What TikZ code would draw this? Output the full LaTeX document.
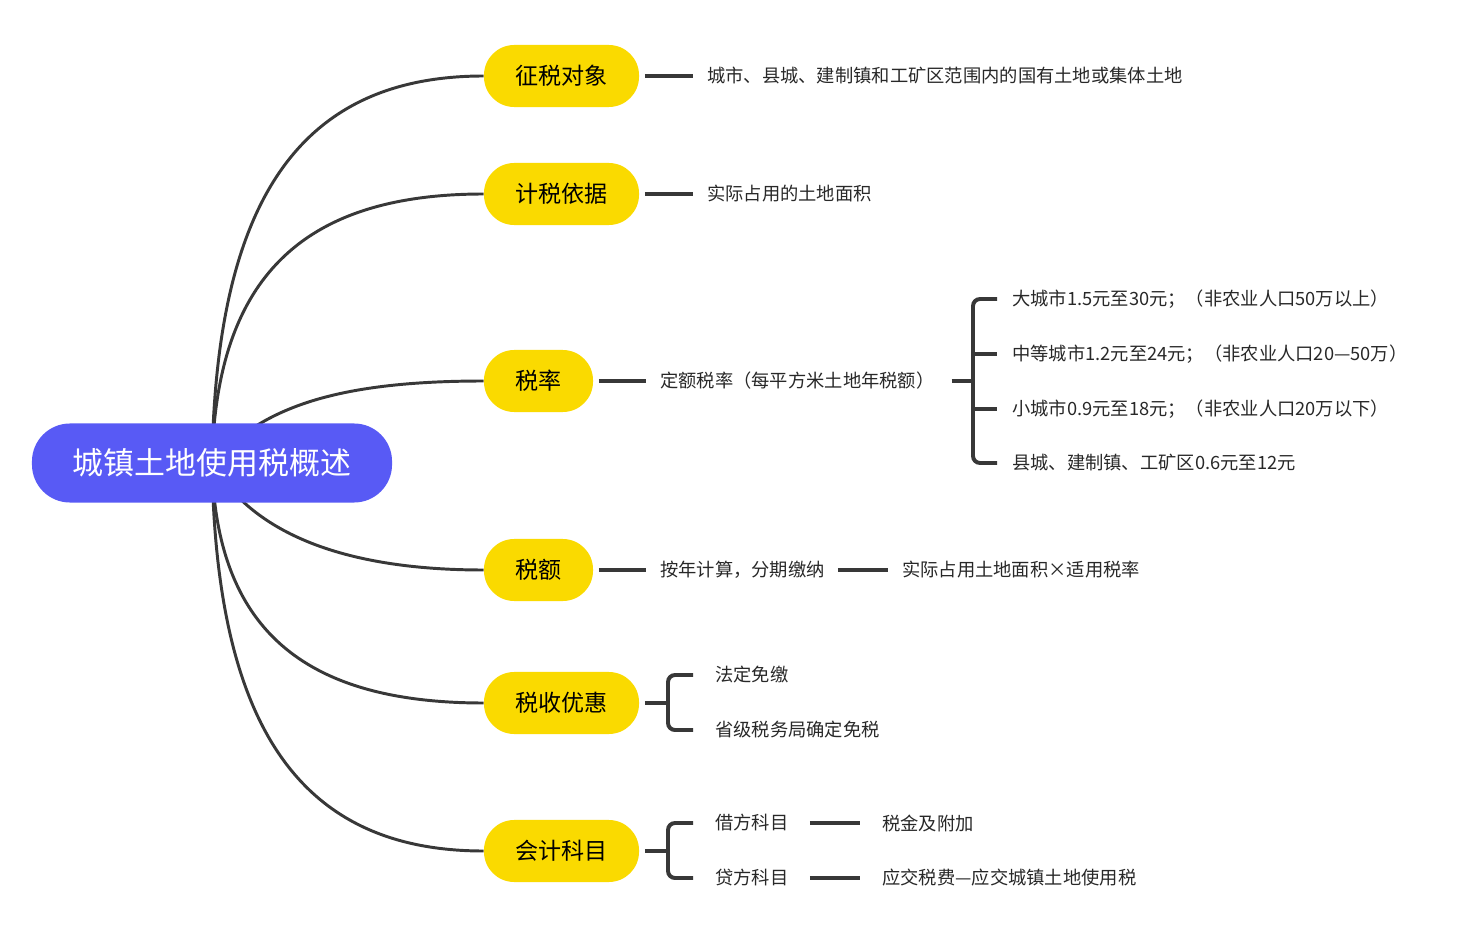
\documentclass[tikz,border=0pt]{standalone}
\usepackage{fontspec}
\setmainfont{Noto Sans CJK SC}
\usepackage{tikz}
\usetikzlibrary{backgrounds,calc}
\definecolor{rootblue}{RGB}{88,90,245}
\definecolor{topicyellow}{RGB}{250,218,0}
\definecolor{linkgray}{RGB}{56,56,56}
\definecolor{leafgray}{RGB}{40,40,40}
\tikzset{
  root/.style    = {fill=rootblue, text=white, rounded corners=27pt, inner sep=0pt,
                    minimum width=9cm, minimum height=1.975cm,
                    font=\fontsize{22}{26}\selectfont},
  topic/.style   = {fill=topicyellow, text=black, rounded corners=21.5pt, inner sep=0pt,
                    minimum width=3.875cm, minimum height=1.55cm,
                    font=\fontsize{16.4}{20}\selectfont},
  topicsm/.style = {topic, minimum width=2.725cm},
  leaf/.style    = {anchor=west, inner sep=0pt, text=leafgray,
                    font=\fontsize{13}{16}\selectfont},
  branch/.style  = {draw=linkgray, line width=2.1pt},
  link/.style    = {draw=linkgray, line width=2.8pt, shorten <=4pt, shorten >=10pt}
}

\begin{document}
\begin{tikzpicture}[x=0.025cm,y=-0.025cm]
  \useasboundingbox (0,0) rectangle (1472,931);
  % root and first-level topics
  \node[root] (main) at (212,463) {城镇土地使用税概述};
  \node[topic]   (obj)    at (561.5,76)  {征税对象};
  \node[topic]   (basis)  at (561.5,194) {计税依据};
  \node[topicsm] (rate)   at (538.5,381) {税率};
  \node[topicsm] (amount) at (538.5,570) {税额};
  \node[topic]   (relief) at (561.5,703) {税收优惠};
  \node[topic]   (acct)   at (561.5,851) {会计科目};
  % curved branches, kept behind the root
  \begin{scope}[on background layer]
    \draw[branch] (main.center) .. controls (216,200) and (300,76)  .. (obj.west);
    \draw[branch] (main.center) .. controls (216,280) and (300,194) .. (basis.west);
    \draw[branch] (main.center) .. controls (260,410) and (330,381) .. (rate.west);
    \draw[branch] (main.center) .. controls (245,520) and (320,570) .. (amount.west);
    \draw[branch] (main.center) .. controls (216,626) and (300,703) .. (relief.west);
    \draw[branch] (main.center) .. controls (216,727) and (300,851) .. (acct.west);
  \end{scope}
  % leaves
  \node[leaf] (objtxt)   at (707,76)  {城市、县城、建制镇和工矿区范围内的国有土地或集体土地};
  \node[leaf] (basistxt) at (707,194) {实际占用的土地面积};
  \node[leaf] (ratetxt)  at (660,381) {定额税率（每平方米土地年税额）};
  \node[leaf] (r1) at (1012,299) {大城市1.5元至30元；（非农业人口50万以上）};
  \node[leaf] (r2) at (1012,354) {中等城市1.2元至24元；（非农业人口20—50万）};
  \node[leaf] (r3) at (1012,409) {小城市0.9元至18元；（非农业人口20万以下）};
  \node[leaf] (r4) at (1012,463) {县城、建制镇、工矿区0.6元至12元};
  \node[leaf] (amt1) at (660,570) {按年计算，分期缴纳};
  \node[leaf] (amt2) at (902,570) {实际占用土地面积×适用税率};
  \node[leaf] (rel1) at (715,675) {法定免缴};
  \node[leaf] (rel2) at (715,730) {省级税务局确定免税};
  \node[leaf] (dr)    at (715,823) {借方科目};
  \node[leaf] (cr)    at (715,878) {贷方科目};
  \node[leaf] (drtxt) at (882,823) {税金及附加};
  \node[leaf] (crtxt) at (882,878) {应交税费—应交城镇土地使用税};
  \coordinate (rj) at (973,381);
  \coordinate (fj) at (668,703);
  \coordinate (aj) at (668,851);
  % straight links
  \draw[link] (obj.east) -- (objtxt.west);
  \draw[link] (basis.east) -- (basistxt.west);
  \draw[link] (rate.east) -- (ratetxt.west);
  \draw[link] (amount.east) -- (amt1.west);
  \draw[link, shorten <=9pt] (amt1.east) -- (amt2.west);
  \draw[link, shorten <=15pt, shorten >=15.5pt] (dr.east) -- (drtxt.west);
  \draw[link, shorten <=15pt, shorten >=15.5pt] (cr.east) -- (crtxt.west);
  % brackets
  \draw[link, shorten <=12pt, shorten >=0pt] (ratetxt.east) -- (rj);
  \draw[link, shorten <=0pt, shorten >=0pt, rounded corners=5pt]
    ($(r1.west)+(-15,0)$) -| (rj) |- ($(r4.west)+(-15,0)$);
  \draw[link, shorten <=0pt, shorten >=0pt] (rj |- r2.west) -- ($(r2.west)+(-15,0)$);
  \draw[link, shorten <=0pt, shorten >=0pt] (rj |- r3.west) -- ($(r3.west)+(-15,0)$);
  \draw[link, shorten >=0pt] (relief.east) -- (fj);
  \draw[link, shorten <=0pt, shorten >=0pt, rounded corners=5pt]
    ($(rel1.west)+(-22,0)$) -| (fj) |- ($(rel2.west)+(-22,0)$);
  \draw[link, shorten >=0pt] (acct.east) -- (aj);
  \draw[link, shorten <=0pt, shorten >=0pt, rounded corners=5pt]
    ($(dr.west)+(-22,0)$) -| (aj) |- ($(cr.west)+(-22,0)$);
\end{tikzpicture}
\end{document}
